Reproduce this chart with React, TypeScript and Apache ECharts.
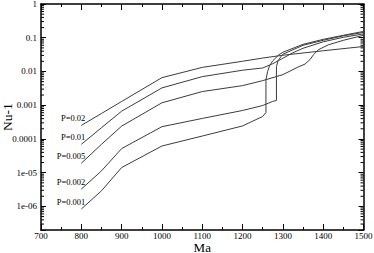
import React, { useEffect, useRef } from 'react';
import * as echarts from 'echarts';

// Series names (labels drawn at each curve's start)
const seriesNames = ['P=0.02', 'P=0.01', 'P=0.005', 'P=0.002', 'P=0.001'];

// Ma (x) and Nu-1 (y) values for each curve
const maP002 = [800, 850, 900, 1000, 1100, 1200, 1250, 1300, 1400, 1500];
const nuP002 = [2.52e-4, 5.69e-4, 1.29e-3, 6.56e-3, 0.0132, 0.0201, 0.025, 0.0303, 0.0411, 0.055];

const maP001 = [800, 850, 900, 1000, 1100, 1200, 1250, 1275, 1300, 1325, 1350, 1400, 1450, 1500];
const nuP001 = [6.93e-5, 2.15e-4, 6.65e-4, 3.26e-3, 7.03e-3, 0.0109, 0.0127, 0.017, 0.0247, 0.0359, 0.0487, 0.0757, 0.103, 0.13];

const maP0005 = [800, 850, 900, 1000, 1100, 1200, 1250, 1300, 1338, 1355, 1367, 1376, 1388, 1413, 1450, 1500];
const nuP0005 = [1.91e-5, 6.93e-5, 2.4e-4, 1.18e-3, 2.54e-3, 3.81e-3, 5.35e-3, 8.05e-3, 0.0136, 0.0166, 0.0223, 0.0313, 0.044, 0.0618, 0.0838, 0.118];

const maP0002 = [800, 850, 900, 1000, 1100, 1200, 1250, 1275, 1284, 1284, 1288, 1295, 1300, 1350, 1400, 1450, 1500];
const nuP0002 = [3.26e-6, 1.13e-5, 5.18e-5, 2.31e-4, 4.05e-4, 6.98e-4, 9.8e-4, 1.3e-3, 1.38e-3, 0.0139, 0.0208, 0.0273, 0.0324, 0.0597, 0.0838, 0.114, 0.144];

const maP0001 = [800, 850, 900, 1000, 1100, 1200, 1250, 1258, 1258, 1262, 1267, 1275, 1290, 1300, 1350, 1400, 1450, 1500];
const nuP0001 = [8.38e-7, 2.9e-6, 1.42e-5, 6.18e-5, 1.22e-4, 2.43e-4, 4.64e-4, 6.09e-4, 5.73e-3, 9.86e-3, 0.0148, 0.0208, 0.0313, 0.0371, 0.0638, 0.0897, 0.118, 0.154];

// Axis ticks / labels
const xMin = 700;
const xMax = 1500;
const xInterval = 100;
const yMin = 2e-7;
const yMax = 1;
const yTickExponents = [-6, -5, -4, -3, -2, -1, 0];
const yTickLabels = ['1e-06', '1e-05', '0.0001', '0.001', '0.01', '0.1', '1'];
const minorMultipliers = [2, 3, 4, 5, 6, 7, 8, 9];

const FONT = '"Liberation Serif", "DejaVu Serif", serif';

export default function App() {
  const ref = useRef<HTMLDivElement>(null);

  useEffect(() => {
    if (!ref.current) return;
    const chart = echarts.init(ref.current, undefined, { renderer: 'svg' });

    const xs = [maP002, maP001, maP0005, maP0002, maP0001];
    const ys = [nuP002, nuP001, nuP0005, nuP0002, nuP0001];

    const lineSeries = seriesNames.map((name, i) => ({
      name,
      type: 'line',
      xAxisIndex: 0,
      yAxisIndex: 0,
      showSymbol: true,
      symbol: 'circle',
      symbolSize: 0,
      lineStyle: { color: '#3c3c3c', width: 1 },
      itemStyle: { color: '#3c3c3c' },
      data: xs[i].map((x, j) =>
        j === 0
          ? {
              value: [x, ys[i][j]],
              label: {
                show: true,
                position: 'left',
                distance: 0,
                offset: [4, -7],
                formatter: name,
                color: '#000',
                fontFamily: FONT,
                fontSize: 8.5,
              },
            }
          : [x, ys[i][j]]
      ),
      z: 3,
    }));

    const minorVals: number[][] = [];
    for (let e = -7; e <= -1; e++) {
      for (const m of minorMultipliers) {
        const v = m * Math.pow(10, e);
        if (v > yMin * 1.01 && v < yMax) minorVals.push([xMax, v]);
      }
    }

    const minorSeries = {
      type: 'custom',
      xAxisIndex: 0,
      yAxisIndex: 0,
      silent: true,
      z: 5,
      encode: { x: 0, y: 1 },
      data: minorVals,
      renderItem: (_p: any, api: any) => {
        const v = api.value(1);
        const pl = api.coord([xMin, v]);
        const pr = api.coord([xMax, v]);
        return {
          type: 'group',
          children: [
            { type: 'line', shape: { x1: pl[0], y1: pl[1], x2: pl[0] + 3, y2: pl[1] }, style: { stroke: '#000', lineWidth: 1 } },
            { type: 'line', shape: { x1: pr[0] - 3, y1: pr[1], x2: pr[0], y2: pr[1] }, style: { stroke: '#000', lineWidth: 1 } },
          ],
        };
      },
    };

    const yLabel = (v: number) => {
      const lv = Math.log10(v);
      const e = Math.round(lv);
      if (Math.abs(lv - e) > 1e-6) return '';
      const idx = yTickExponents.indexOf(e);
      return idx >= 0 ? yTickLabels[idx] : '';
    };

    const xAxisCommon = {
      type: 'value',
      min: xMin,
      max: xMax,
      interval: xInterval,
      splitLine: { show: false },
      axisLine: { show: true, onZero: false, lineStyle: { color: '#000', width: 1.5 } },
      axisTick: { show: true, inside: true, length: 6, lineStyle: { color: '#000', width: 1 } },
      minorTick: { show: true, splitNumber: 2, length: 3, lineStyle: { color: '#000', width: 1 } },
    };

    const yAxisCommon = {
      type: 'log',
      logBase: 10,
      min: yMin,
      max: yMax,
      splitNumber: 7,
      splitLine: { show: false },
      axisLine: { show: true, onZero: false, lineStyle: { color: '#000', width: 1.5 } },
      axisTick: { show: true, inside: true, length: 5, lineStyle: { color: '#000', width: 1 } },
    };

    chart.setOption({
      animation: false,
      backgroundColor: '#fff',
      grid: { left: 41, right: 10.5, top: 4, bottom: 23, containLabel: false, outerBoundsMode: 'none' },
      xAxis: [
        {
          ...xAxisCommon,
          position: 'bottom',
          name: 'Ma',
          nameLocation: 'middle',
          nameGap: 11.5,
          nameMoveOverlap: false,
          nameTextStyle: { color: '#000', fontFamily: FONT, fontSize: 13, lineHeight: 11 },
          axisLabel: { color: '#000', fontFamily: FONT, fontSize: 9, lineHeight: 9, margin: 1.5, formatter: (v: number) => String(v) },
        },
        {
          ...xAxisCommon,
          position: 'top',
          axisLabel: { show: false },
        },
      ],
      yAxis: [
        {
          ...yAxisCommon,
          position: 'left',
          name: 'Nu-1',
          nameLocation: 'middle',
          nameGap: 27,
          nameMoveOverlap: false,
          nameRotate: 90,
          nameTextStyle: { color: '#000', fontFamily: FONT, fontSize: 13.5 },
          axisLabel: { color: '#000', fontFamily: FONT, fontSize: 9, margin: 4, formatter: yLabel },
        },
        {
          ...yAxisCommon,
          position: 'right',
          axisLabel: { show: false },
        },
      ],
      series: [...lineSeries, minorSeries],
    });

    return () => chart.dispose();
  }, []);

  return (
    <div
      ref={ref}
      style={{ position: 'fixed', left: 0, top: 0, width: 374, height: 253, background: '#fff' }}
    />
  );
}
